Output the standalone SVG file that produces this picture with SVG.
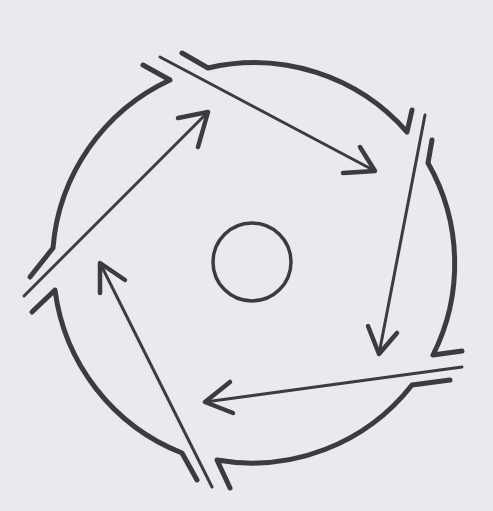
<svg xmlns="http://www.w3.org/2000/svg" width="493" height="511" viewBox="0 0 493 511">
<style>
.arc{fill:none;stroke:#3b3b40;stroke-width:5;stroke-linecap:round;stroke-linejoin:round}
.chord{fill:none;stroke:#3b3b40;stroke-width:3;stroke-linecap:round}
.head{fill:none;stroke:#3b3b40;stroke-width:4.5;stroke-linecap:round;stroke-linejoin:round}
.hub{fill:none;stroke:#3b3b40;stroke-width:3.5}
</style>
<rect width="493" height="511" fill="#e9eaef"/>
<g id="segment-top"><path class="arc" d="M182,53 L208,68 A203,203 0 0 1 407,132 L412,110"/></g>
<g id="segment-right"><path class="arc" d="M432,140 L428,163 A203,203 0 0 1 433,355 L462,351"/></g>
<g id="segment-bottom"><path class="arc" d="M450,380 L412,385 A203,203 0 0 1 217,460 L230,488"/></g>
<g id="segment-lower-left"><path class="arc" d="M197,480 L182,453 A203,203 0 0 1 55,290 L32,312"/></g>
<g id="segment-upper-left"><path class="arc" d="M30,277 L53,248 A203,203 0 0 1 170,80 L143,65"/></g>
<g id="hub"><circle class="hub" cx="252" cy="262" r="39"/></g>
<g id="connectors">
<line class="chord" x1="160" y1="57" x2="375" y2="171"/>
<polyline class="head" points="343,173 375,171 360,147"/>
<line class="chord" x1="425" y1="115" x2="379" y2="354"/>
<polyline class="head" points="368,326 379,354 397,333"/>
<line class="chord" x1="462" y1="367" x2="205" y2="402"/>
<polyline class="head" points="230,382 205,402 233,413"/>
<line class="chord" x1="212" y1="487" x2="100" y2="263"/>
<polyline class="head" points="100,293 100,263 125,280"/>
<line class="chord" x1="24" y1="296" x2="208" y2="112"/>
<polyline class="head" points="178,118 208,112 198,147"/>
</g>
</svg>
